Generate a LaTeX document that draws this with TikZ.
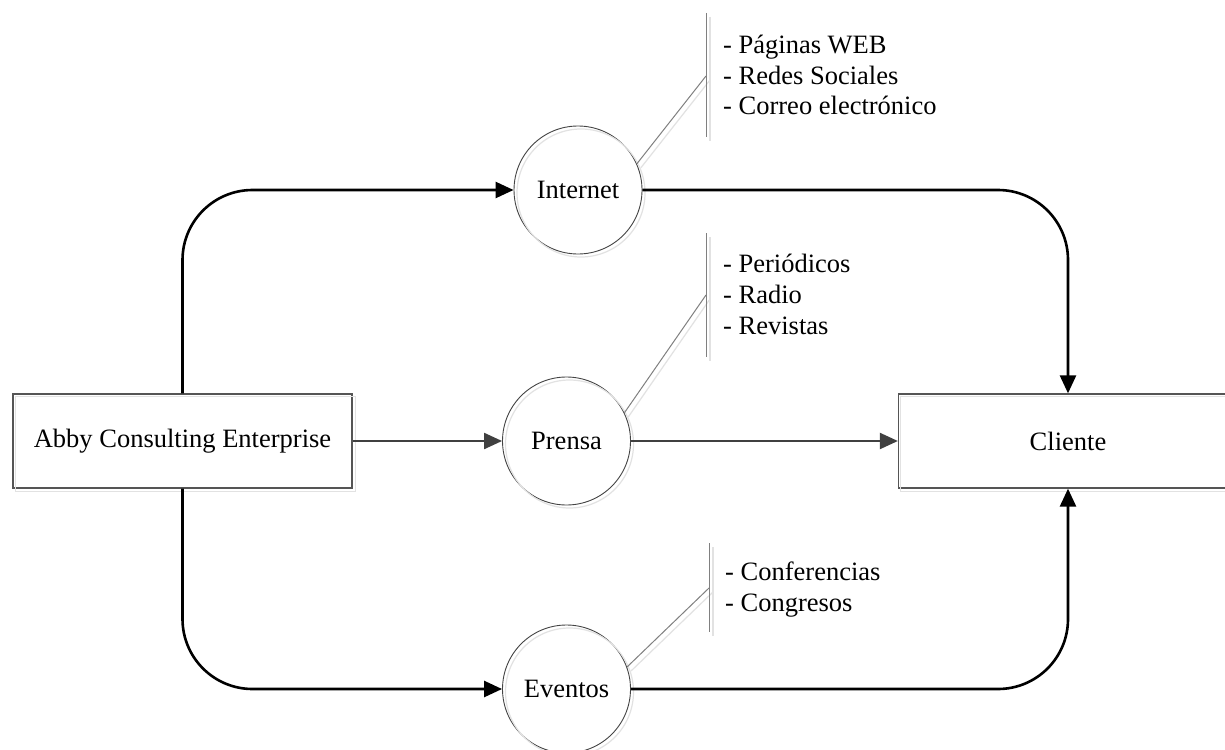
\documentclass[tikz,border=0pt]{standalone}
\usepackage{fontspec}
\setmainfont{Liberation Serif}
\usetikzlibrary{arrows.meta}
\definecolor{boxgray}{HTML}{555555}
\definecolor{circgray}{HTML}{444444}
\definecolor{shadowgray}{HTML}{E2E2E2}
\definecolor{midgray}{HTML}{404040}
\begin{document}
\begin{tikzpicture}[x=1pt,y=-1pt,
  every node/.style={font=\fontsize{26.5}{31}\selectfont},
  boxnode/.style={draw=boxgray, line width=1.3pt, minimum width=339pt, minimum height=94pt, inner sep=0pt},
  circnode/.style={circle, draw=circgray, line width=0.9pt, minimum size=128pt, inner sep=0pt},
  shadowline/.style={draw=shadowgray, line width=1.2pt},
  flow/.style={line width=2.6pt, rounded corners=70pt, -{Triangle[length=18pt,width=16pt]}},
  plainflow/.style={draw=midgray, line width=2.2pt, -{Triangle[length=18pt,width=16pt]}},
  notenode/.style={align=left, anchor=base west, inner sep=0pt},
  noteline/.style={draw=gray, line width=1pt}]
\useasboundingbox (0,0) rectangle (1225,749);
\clip (0,0) rectangle (1225,749);
\fill[white] (0,0) rectangle (1225,749);

% main shapes
\node[boxnode] (A) at (182.5,441) {Abby Consulting Enterprise};
\node[boxnode] (C) at (1068,441) {Cliente};
\node[circnode] (I) at (578,190) {Internet};
\node[circnode] (P) at (566.5,441) {Prensa};
\node[circnode] (E) at (566.5,689) {Eventos};

% drop shadows of the shapes
\draw[shadowline] ([shift={(3,3)}]A.north west) rectangle ([shift={(3,3)}]A.south east);
\draw[shadowline] ([shift={(3,3)}]C.north west) rectangle ([shift={(3,3)}]C.south east);
\draw[shadowline] ([shift={(3,3)}]I.center) circle (64);
\draw[shadowline] ([shift={(3,3)}]P.center) circle (64);
\draw[shadowline] ([shift={(3,3)}]E.center) circle (64);

% channel details (anchored at the baseline of the last line)
\node[notenode] (nI) at (723,115) {- Páginas WEB\\- Redes Sociales\\- Correo electrónico};
\node[notenode] (nP) at (723,334) {- Periódicos\\- Radio\\- Revistas};
\node[notenode] (nE) at (725,611) {- Conferencias\\- Congresos};

\coordinate (nIt) at (706,13);  \coordinate (nIb) at (706,137); \coordinate (nIm) at (706,76);
\coordinate (nPt) at (706,233); \coordinate (nPb) at (706,357); \coordinate (nPm) at (706,295);
\coordinate (nEt) at (709,543); \coordinate (nEb) at (709,632); \coordinate (nEm) at (709,588);

\draw[shadowline] ([shift={(4,4)}]nIt) -- ([shift={(4,4)}]nIb);
\draw[shadowline] ([shift={(4,4)}]I.24) -- ([shift={(4,4)}]nIm);
\draw[shadowline] ([shift={(4,4)}]nPt) -- ([shift={(4,4)}]nPb);
\draw[shadowline] ([shift={(4,4)}]P.26) -- ([shift={(4,4)}]nPm);
\draw[shadowline] ([shift={(4,4)}]nEt) -- ([shift={(4,4)}]nEb);
\draw[shadowline] ([shift={(4,4)}]E.20) -- ([shift={(4,4)}]nEm);

\draw[noteline] (nIt) -- (nIb);
\draw[noteline] (I.24) -- (nIm);
\draw[noteline] (nPt) -- (nPb);
\draw[noteline] (P.26) -- (nPm);
\draw[noteline] (nEt) -- (nEb);
\draw[noteline] (E.20) -- (nEm);

% connectors
\draw[flow] (A.north) |- (I.west);
\draw[flow] (A.south) |- (E.west);
\draw[flow] (I.east) -| (C.north);
\draw[flow] (E.east) -| (C.south);
\draw[plainflow] (A.east) -- (P.west);
\draw[plainflow] (P.east) -- (C.west);
\end{tikzpicture}
\end{document}
